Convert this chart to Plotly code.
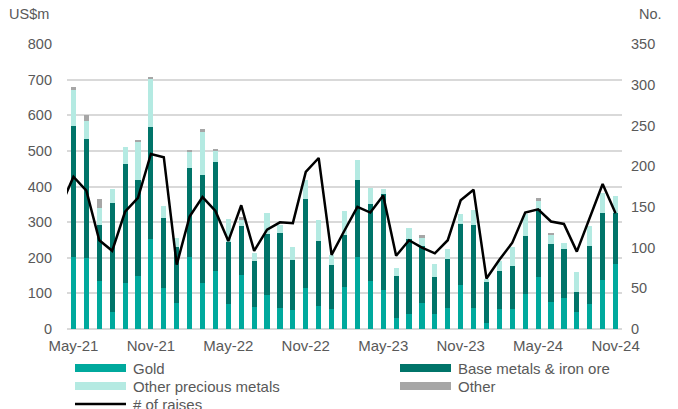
import plotly.graph_objects as go
import pandas as pd

# Monthly categories; the raises series starts one month earlier than the bars
raise_months = pd.date_range("2021-04-01", periods=44, freq="MS").strftime("%b-%y").tolist()
months = raise_months[1:]
tick_labels = ["May-21", "Nov-21", "May-22", "Nov-22", "May-23", "Nov-23", "May-24", "Nov-24"]

# Capital raised by commodity (US$m)
gold = [202, 198, 135, 47, 128, 149, 254, 114, 73, 201, 130, 164, 70, 152, 63, 95, 59, 52,
        116, 65, 56, 118, 202, 134, 109, 32, 43, 73, 43, 58, 124, 60, 18, 56, 56, 97, 145,
        75, 86, 47, 69, 138, 182]
base_metals = [368, 334, 156, 308, 335, 268, 312, 198, 156, 250, 301, 304, 173, 137, 127, 173,
               211, 141, 249, 182, 124, 145, 215, 218, 269, 117, 210, 159, 104, 138, 172, 231,
               115, 108, 121, 165, 191, 163, 139, 58, 165, 187, 143]
other_precious = [102, 52, 49, 37, 49, 109, 137, 32, 27, 47, 123, 32, 67, 16, 22, 58, 21, 38,
                  52, 58, 27, 68, 56, 43, 14, 23, 31, 23, 35, 28, 28, 44, 7, 27, 52, 61, 24,
                  26, 16, 54, 54, 58, 49]
other = [8, 17, 25, 0, 0, 4, 5, 0, 0, 2, 7, 4, 0, 9, 0, 0, 0, 0, 0, 0, 0, 0, 0, 0, 0, 0, 0,
         8, 0, 0, 0, 0, 0, 0, 0, 0, 7, 5, 0, 0, 0, 0, 0]

# Number of raises (right axis)
raises = [150, 187, 170, 109, 96, 144, 161, 215, 211, 79, 138, 162, 145, 108, 152, 96, 122,
          131, 130, 193, 210, 91, 121, 150, 143, 164, 90, 109, 100, 93, 109, 158, 171, 62,
          85, 106, 143, 147, 132, 129, 95, 137, 178, 142]

C_GOLD = "#00A99D"
C_BASE = "#007469"
C_OPM = "#B4EAE2"
C_OTHER = "#A6A6A6"
FONT = "Liberation Sans, Arial, sans-serif"
TXT = "#595959"

W, H = 678, 409
L, R, T, B = 67, 56, 44, 80

fig = go.Figure()
series = [("Gold", gold, C_GOLD), ("Base metals & iron ore", base_metals, C_BASE),
          ("Other precious metals", other_precious, C_OPM), ("Other", other, C_OTHER)]
for name, vals, color in series:
    fig.add_trace(go.Bar(x=months, y=vals, name=name, marker=dict(color=color, line_width=0),
                         showlegend=False))

fig.add_trace(go.Scatter(x=raise_months, y=raises, name="# of raises", yaxis="y2",
                         mode="lines", line=dict(color="black", width=2.5), showlegend=False))

# Legend drawn as swatches + labels below the plot
pw, ph = W - L - R, H - T - B
def px(x):
    return (x - L) / pw
def py(y):
    return (H - B - y) / ph

legend_items = [("Gold", C_GOLD, "bar", 75, 368), ("Base metals & iron ore", C_BASE, "bar", 400, 368),
                ("Other precious metals", C_OPM, "bar", 75, 386), ("Other", C_OTHER, "bar", 400, 386),
                ("# of raises", "black", "line", 75, 404)]
shapes, annotations = [], []
for label, color, kind, x0, yc in legend_items:
    if kind == "bar":
        shapes.append(dict(type="rect", xref="paper", yref="paper", x0=px(x0), x1=px(x0 + 51),
                           y0=py(yc + 4), y1=py(yc - 4), fillcolor=color, line_width=0))
    else:
        shapes.append(dict(type="line", xref="paper", yref="paper", x0=px(x0), x1=px(x0 + 51),
                           y0=py(yc), y1=py(yc), line=dict(color=color, width=2.5)))
    annotations.append(dict(text=label, xref="paper", yref="paper", x=px(x0 + 56), y=py(yc),
                            xanchor="left", yanchor="middle", showarrow=False,
                            font=dict(family=FONT, size=15, color=TXT)))

annotations.append(dict(text="US$m", xref="paper", yref="paper", x=px(7), y=py(14),
                        xanchor="left", yanchor="middle", showarrow=False,
                        font=dict(family=FONT, size=14.5, color=TXT)))
annotations.append(dict(text="No.", xref="paper", yref="paper", x=px(637), y=py(14),
                        xanchor="left", yanchor="middle", showarrow=False,
                        font=dict(family=FONT, size=14.5, color=TXT)))

fig.update_layout(
    width=W, height=H, autosize=False,
    margin=dict(l=L, r=R, t=T, b=B),
    paper_bgcolor="white", plot_bgcolor="white",
    barmode="stack", bargap=0.6,
    font=dict(family=FONT, color=TXT),
    xaxis=dict(type="category", categoryorder="array", categoryarray=raise_months,
               range=[0.5, 43.5], tickvals=tick_labels, ticktext=tick_labels,
               showgrid=False, showline=False, zeroline=False, ticks="",
               ticklabelstandoff=6, tickfont=dict(size=15, color=TXT)),
    yaxis=dict(range=[0, 800], dtick=100, showgrid=True, gridcolor="#D9D9D9", gridwidth=1.5,
               zeroline=True, zerolinecolor="#D9D9D9", zerolinewidth=1.5, showline=False,
               ticks="", ticklabelstandoff=14, tickfont=dict(size=14.5, color=TXT)),
    yaxis2=dict(range=[0, 350], dtick=50, overlaying="y", side="right", showgrid=False,
                zeroline=False, showline=False, ticks="", ticklabelstandoff=8,
                tickfont=dict(size=14.5, color=TXT)),
    shapes=shapes, annotations=annotations,
)

fig.write_html("out.html")
